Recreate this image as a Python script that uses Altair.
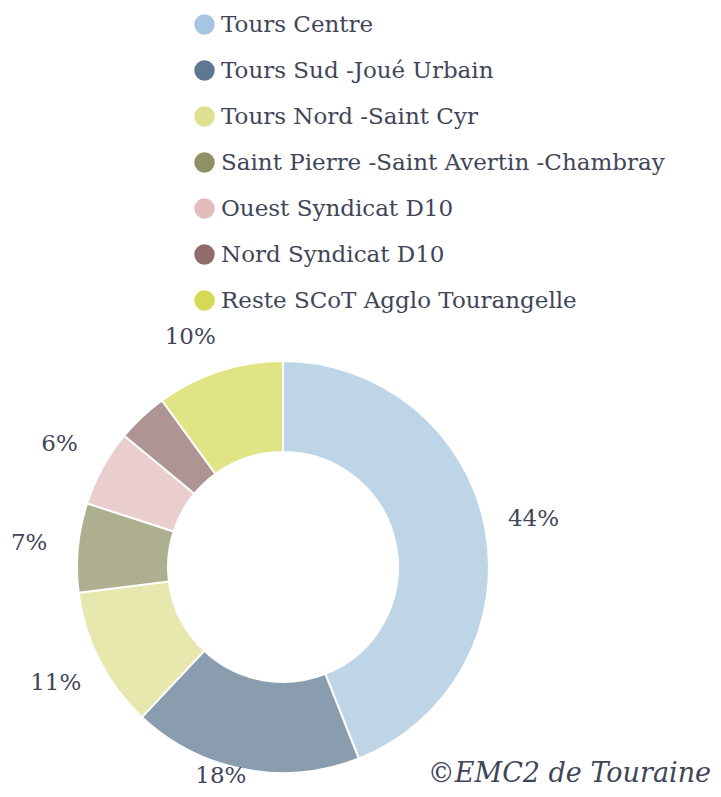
import altair as alt
import pandas as pd

regions = [
    "Tours Centre",
    "Tours Sud -Joué Urbain",
    "Tours Nord -Saint Cyr",
    "Saint Pierre -Saint Avertin -Chambray",
    "Ouest Syndicat D10",
    "Nord Syndicat D10",
    "Reste SCoT Agglo Tourangelle",
]
shares = [44, 18, 11, 7, 6, 4, 10]
colors = ["#a6c5e0", "#5d7890", "#dde08f", "#8f9165", "#e3bcbc", "#8f6c6a", "#d5da55"]
credit = ["©EMC2 de Touraine"]

df = pd.DataFrame({"region": regions, "share": shares, "rank": list(range(len(regions)))})

FONT = "DejaVu Serif"
TEXT = "#3f4658"
CX, CY = 275, 559
BOTTOM = "Tours Sud -Joué Urbain"
TOP = "Reste SCoT Agglo Tourangelle"

theta = alt.Theta("share:Q", stack=True)
order = alt.Order("rank:Q", sort="ascending")

arcs = alt.Chart(df).mark_arc(
    outerRadius=206, innerRadius=115, stroke="white", strokeWidth=2, opacity=0.72
).encode(
    theta=theta,
    order=order,
    x=alt.value(CX),
    y=alt.value(CY),
    color=alt.Color(
        "region:N",
        scale=alt.Scale(domain=regions, range=colors),
        legend=alt.Legend(
            title=None,
            orient="none",
            legendX=185,
            legendY=5,
            labelFont=FONT,
            labelFontSize=23,
            labelColor=TEXT,
            labelLimit=650,
            labelOffset=5,
            symbolType="circle",
            symbolSize=420,
            symbolStrokeWidth=0,
            symbolOpacity=1,
            rowPadding=22,
        ),
    ),
)


def label_layer(expr, radius, dx=0, baseline="middle"):
    return alt.Chart(df).transform_calculate(lab=expr).mark_text(
        font=FONT, fontSize=23, color=TEXT, radius=radius, dx=dx, baseline=baseline
    ).encode(
        theta=theta,
        order=order,
        x=alt.value(CX),
        y=alt.value(CY),
        text="lab:N",
    )


labels_main = label_layer(
    f"datum.share >= 5 && datum.region != '{BOTTOM}' && datum.region != '{TOP}' ? datum.share + '%' : ''",
    255,
)
labels_top = label_layer(f"datum.region == '{TOP}' ? datum.share + '%' : ''", 242, -18)
labels_bottom = label_layer(
    f"datum.region == '{BOTTOM}' ? datum.share + '%' : ''", 225, -20, "bottom"
)

credit_layer = alt.Chart(pd.DataFrame({"t": credit})).mark_text(
    font=FONT, fontStyle="italic", fontSize=27, align="right", baseline="bottom", color=TEXT
).encode(x=alt.value(703), y=alt.value(780), text="t:N")

chart = alt.layer(arcs, labels_main, labels_top, labels_bottom, credit_layer).properties(
    width=705, height=781, autosize=alt.AutoSizeParams(type="none"), padding=0
).configure_view(stroke=None)

chart.save("out.html", embed_options={"renderer": "svg", "actions": False})
